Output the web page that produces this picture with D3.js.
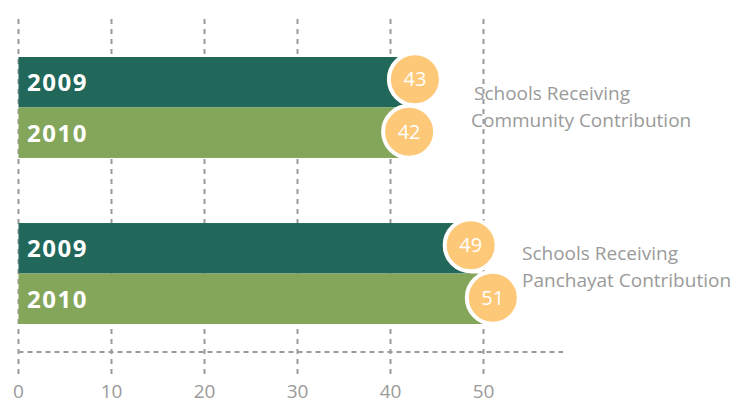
<!DOCTYPE html>
<html>
<head>
<meta charset="utf-8">
<script src="https://cdn.jsdelivr.net/npm/d3@7"></script>
<style>
  body { margin: 0; background: #fff; }
  text { font-family: "Open Sans", "Noto Sans", sans-serif; }
</style>
</head>
<body>
<div id="chart-container"></div>
<script>
// chart data
const groups = ["Schools Receiving|Community Contribution", "Schools Receiving|Panchayat Contribution"];
const years = ["2009", "2010"];
const values2009 = [43, 49];
const values2010 = [42, 51];
const xTicks = [0, 10, 20, 30, 40, 50];

const svgWidth = 738;
const svgHeight = 403;
const colors = { "2009": "#21675a", "2010": "#84a65b" };

const svg = d3.select("#chart-container")
    .append("svg")
    .attr("width", svgWidth)
    .attr("height", svgHeight);

const x = d3.scaleLinear()
    .domain([0, 50])
    .range([18.5, 483.5]);

const yGroup = d3.scaleBand()
    .domain(groups)
    .range([57, 324])
    .paddingInner(0.392);

const yYear = d3.scaleBand()
    .domain(years)
    .range([0, yGroup.bandwidth()]);

// gridlines
svg.append("g")
    .selectAll("line")
    .data(xTicks)
    .enter()
    .append("line")
    .attr("x1", d => x(d))
    .attr("x2", d => x(d))
    .attr("y1", 19)
    .attr("y2", 379)
    .attr("stroke", "#9a9a9a")
    .attr("stroke-width", 2)
    .attr("stroke-dasharray", "5,5");

svg.append("line")
    .attr("x1", x(0))
    .attr("x2", 563)
    .attr("y1", 352)
    .attr("y2", 352)
    .attr("stroke", "#9a9a9a")
    .attr("stroke-width", 2)
    .attr("stroke-dasharray", "5,4");

// tick labels
svg.append("g")
    .selectAll("text")
    .data(xTicks)
    .enter()
    .append("text")
    .attr("x", d => x(d))
    .attr("y", 398)
    .attr("text-anchor", "middle")
    .attr("fill", "#9a9a9a")
    .attr("font-size", 19)
    .text(d => d);

// rows built from the arrays
const rows = [];
groups.forEach((g, i) => {
    rows.push({ group: g, year: "2009", value: values2009[i] });
    rows.push({ group: g, year: "2010", value: values2010[i] });
});

// bubble offsets, 2009 bubbles sit a little left/up
const dx = d => d.year === "2009" ? -3.5 : 0;
const dy = d => d.year === "2009" ? -3 : -1;

const bars = svg.selectAll(".bar")
    .data(rows)
    .enter()
    .append("g")
    .attr("class", "bar")
    .attr("transform", d => `translate(0, ${yGroup(d.group) + yYear(d.year)})`);

bars.append("rect")
    .attr("x", x(0))
    .attr("y", 0)
    .attr("width", d => x(d.value) + dx(d) - x(0))
    .attr("height", yYear.bandwidth())
    .attr("fill", d => colors[d.year]);

bars.append("text")
    .attr("x", 27)
    .attr("y", yYear.bandwidth() / 2 + 9)
    .attr("fill", "#fff")
    .attr("font-weight", "bold")
    .attr("font-size", 24)
    .attr("letter-spacing", 1.5)
    .text(d => d.year);

// value bubbles
bars.append("circle")
    .attr("cx", d => x(d.value) + dx(d))
    .attr("cy", d => yYear.bandwidth() / 2 + dy(d))
    .attr("r", 26)
    .attr("fill", "#fdc877")
    .attr("stroke", "#fff")
    .attr("stroke-width", 4);

bars.append("text")
    .attr("x", d => x(d.value) + dx(d))
    .attr("y", d => yYear.bandwidth() / 2 + dy(d) + 7)
    .attr("text-anchor", "middle")
    .attr("fill", "#fff")
    .attr("font-size", 20)
    .text(d => d.value);

// group labels
const labelX = [474, 522];
const labelY = [100, 260];
groups.forEach((g, i) => {
    const lines = g.split("|");
    const t = svg.append("text")
        .attr("fill", "#9a9a9a")
        .attr("font-size", 19);
    lines.forEach((ln, j) => {
        t.append("tspan")
            .attr("x", labelX[i] - (j === 1 && i === 0 ? 3 : 0))
            .attr("y", labelY[i] + j * 27)
            .text(ln);
    });
});
</script>
</body>
</html>
